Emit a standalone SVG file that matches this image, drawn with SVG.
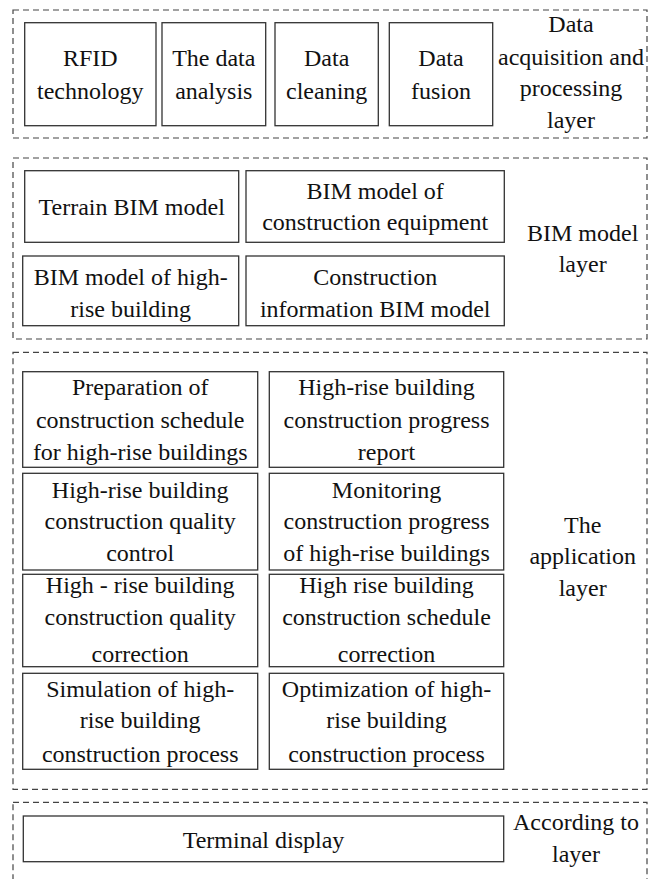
<svg xmlns="http://www.w3.org/2000/svg" width="656" height="879" viewBox="0 0 656 879">
<style>
.layer{fill:none;stroke:#444;stroke-width:1.2;stroke-dasharray:6 4}
.box{fill:#fff;stroke:#333;stroke-width:1.3}
</style>
<rect width="656" height="879" fill="#fff"/>
<g id="layer1">
<rect class="layer" x="13" y="10" width="634" height="128"/>
<text style="font-family:'Liberation Serif','Times New Roman',serif;font-size:24px;fill:#111;text-anchor:middle" x="571" y="32">Data</text>
<text style="font-family:'Liberation Serif','Times New Roman',serif;font-size:24px;fill:#111;text-anchor:middle" x="571" y="65">acquisition and</text>
<text style="font-family:'Liberation Serif','Times New Roman',serif;font-size:24px;fill:#111;text-anchor:middle" x="571" y="96">processing</text>
<text style="font-family:'Liberation Serif','Times New Roman',serif;font-size:24px;fill:#111;text-anchor:middle" x="571" y="128">layer</text>
</g>
<g id="rfid"><rect class="box" x="24.7" y="22.7" width="131.3" height="103"/><text style="font-family:'Liberation Serif','Times New Roman',serif;font-size:24px;fill:#111;text-anchor:middle" x="90.3" y="66">RFID</text><text style="font-family:'Liberation Serif','Times New Roman',serif;font-size:24px;fill:#111;text-anchor:middle" x="90.3" y="99">technology</text></g>
<g id="analysis"><rect class="box" x="162" y="22.7" width="103.7" height="103"/><text style="font-family:'Liberation Serif','Times New Roman',serif;font-size:24px;fill:#111;text-anchor:middle" x="213.8" y="66">The data</text><text style="font-family:'Liberation Serif','Times New Roman',serif;font-size:24px;fill:#111;text-anchor:middle" x="213.8" y="99">analysis</text></g>
<g id="cleaning"><rect class="box" x="275" y="22.7" width="103.3" height="103"/><text style="font-family:'Liberation Serif','Times New Roman',serif;font-size:24px;fill:#111;text-anchor:middle" x="326.7" y="66">Data</text><text style="font-family:'Liberation Serif','Times New Roman',serif;font-size:24px;fill:#111;text-anchor:middle" x="326.7" y="99">cleaning</text></g>
<g id="fusion"><rect class="box" x="389.3" y="22.7" width="103.4" height="103"/><text style="font-family:'Liberation Serif','Times New Roman',serif;font-size:24px;fill:#111;text-anchor:middle" x="441" y="66">Data</text><text style="font-family:'Liberation Serif','Times New Roman',serif;font-size:24px;fill:#111;text-anchor:middle" x="441" y="99">fusion</text></g>

<g id="layer2">
<rect class="layer" x="13" y="158" width="634" height="181"/>
<text style="font-family:'Liberation Serif','Times New Roman',serif;font-size:24px;fill:#111;text-anchor:middle" x="582.7" y="241">BIM model</text>
<text style="font-family:'Liberation Serif','Times New Roman',serif;font-size:24px;fill:#111;text-anchor:middle" x="582.7" y="272">layer</text>
</g>
<g id="terrain"><rect class="box" x="24.7" y="170.7" width="214" height="71.6"/><text style="font-family:'Liberation Serif','Times New Roman',serif;font-size:24px;fill:#111;text-anchor:middle" x="131.7" y="215">Terrain BIM model</text></g>
<g id="equipment"><rect class="box" x="246" y="170.7" width="258.3" height="71.6"/><text style="font-family:'Liberation Serif','Times New Roman',serif;font-size:24px;fill:#111;text-anchor:middle" x="375.2" y="199">BIM model of</text><text style="font-family:'Liberation Serif','Times New Roman',serif;font-size:24px;fill:#111;text-anchor:middle" x="375.2" y="230">construction equipment</text></g>
<g id="highrise"><rect class="box" x="22.7" y="256" width="216" height="69.7"/><text style="font-family:'Liberation Serif','Times New Roman',serif;font-size:24px;fill:#111;text-anchor:middle" x="130.7" y="285">BIM model of high-</text><text style="font-family:'Liberation Serif','Times New Roman',serif;font-size:24px;fill:#111;text-anchor:middle" x="130.7" y="317">rise building</text></g>
<g id="info"><rect class="box" x="246" y="256" width="258.3" height="69.7"/><text style="font-family:'Liberation Serif','Times New Roman',serif;font-size:24px;fill:#111;text-anchor:middle" x="375.2" y="285">Construction</text><text style="font-family:'Liberation Serif','Times New Roman',serif;font-size:24px;fill:#111;text-anchor:middle" x="375.2" y="317">information BIM model</text></g>

<g id="layer3">
<rect class="layer" x="13" y="352.3" width="634" height="437"/>
<text style="font-family:'Liberation Serif','Times New Roman',serif;font-size:24px;fill:#111;text-anchor:middle" x="582.7" y="533">The</text>
<text style="font-family:'Liberation Serif','Times New Roman',serif;font-size:24px;fill:#111;text-anchor:middle" x="582.7" y="564">application</text>
<text style="font-family:'Liberation Serif','Times New Roman',serif;font-size:24px;fill:#111;text-anchor:middle" x="582.7" y="596">layer</text>
</g>
<g id="a1"><rect class="box" x="22.7" y="371.7" width="235" height="95.6"/><text style="font-family:'Liberation Serif','Times New Roman',serif;font-size:24px;fill:#111;text-anchor:middle" x="140.2" y="395">Preparation of</text><text style="font-family:'Liberation Serif','Times New Roman',serif;font-size:24px;fill:#111;text-anchor:middle" x="140.2" y="428">construction schedule</text><text style="font-family:'Liberation Serif','Times New Roman',serif;font-size:24px;fill:#111;text-anchor:middle" x="140.2" y="460">for high-rise buildings</text></g>
<g id="a2"><rect class="box" x="269.3" y="371.7" width="234.4" height="95.6"/><text style="font-family:'Liberation Serif','Times New Roman',serif;font-size:24px;fill:#111;text-anchor:middle" x="386.5" y="395">High-rise building</text><text style="font-family:'Liberation Serif','Times New Roman',serif;font-size:24px;fill:#111;text-anchor:middle" x="386.5" y="428">construction progress</text><text style="font-family:'Liberation Serif','Times New Roman',serif;font-size:24px;fill:#111;text-anchor:middle" x="386.5" y="460">report</text></g>
<g id="a3"><rect class="box" x="22.7" y="473.3" width="235" height="96.7"/><text style="font-family:'Liberation Serif','Times New Roman',serif;font-size:24px;fill:#111;text-anchor:middle" x="140.2" y="498">High-rise building</text><text style="font-family:'Liberation Serif','Times New Roman',serif;font-size:24px;fill:#111;text-anchor:middle" x="140.2" y="529">construction quality</text><text style="font-family:'Liberation Serif','Times New Roman',serif;font-size:24px;fill:#111;text-anchor:middle" x="140.2" y="561">control</text></g>
<g id="a4"><rect class="box" x="269.3" y="473.3" width="234.4" height="96.7"/><text style="font-family:'Liberation Serif','Times New Roman',serif;font-size:24px;fill:#111;text-anchor:middle" x="386.5" y="498">Monitoring</text><text style="font-family:'Liberation Serif','Times New Roman',serif;font-size:24px;fill:#111;text-anchor:middle" x="386.5" y="529">construction progress</text><text style="font-family:'Liberation Serif','Times New Roman',serif;font-size:24px;fill:#111;text-anchor:middle" x="386.5" y="561">of high-rise buildings</text></g>
<g id="a5"><rect class="box" x="22.7" y="574.3" width="235" height="92.4"/><text style="font-family:'Liberation Serif','Times New Roman',serif;font-size:24px;fill:#111;text-anchor:middle" x="140.2" y="593">High - rise building</text><text style="font-family:'Liberation Serif','Times New Roman',serif;font-size:24px;fill:#111;text-anchor:middle" x="140.2" y="625">construction quality</text><text style="font-family:'Liberation Serif','Times New Roman',serif;font-size:24px;fill:#111;text-anchor:middle" x="140.2" y="662">correction</text></g>
<g id="a6"><rect class="box" x="269.3" y="574.3" width="234.4" height="92.4"/><text style="font-family:'Liberation Serif','Times New Roman',serif;font-size:24px;fill:#111;text-anchor:middle" x="386.5" y="593">High rise building</text><text style="font-family:'Liberation Serif','Times New Roman',serif;font-size:24px;fill:#111;text-anchor:middle" x="386.5" y="625">construction schedule</text><text style="font-family:'Liberation Serif','Times New Roman',serif;font-size:24px;fill:#111;text-anchor:middle" x="386.5" y="662">correction</text></g>
<g id="a7"><rect class="box" x="22.7" y="673.3" width="235" height="96"/><text style="font-family:'Liberation Serif','Times New Roman',serif;font-size:24px;fill:#111;text-anchor:middle" x="140.2" y="697">Simulation of high-</text><text style="font-family:'Liberation Serif','Times New Roman',serif;font-size:24px;fill:#111;text-anchor:middle" x="140.2" y="728">rise building</text><text style="font-family:'Liberation Serif','Times New Roman',serif;font-size:24px;fill:#111;text-anchor:middle" x="140.2" y="762">construction process</text></g>
<g id="a8"><rect class="box" x="269.3" y="673.3" width="234.4" height="96"/><text style="font-family:'Liberation Serif','Times New Roman',serif;font-size:24px;fill:#111;text-anchor:middle" x="386.5" y="697">Optimization of high-</text><text style="font-family:'Liberation Serif','Times New Roman',serif;font-size:24px;fill:#111;text-anchor:middle" x="386.5" y="728">rise building</text><text style="font-family:'Liberation Serif','Times New Roman',serif;font-size:24px;fill:#111;text-anchor:middle" x="386.5" y="762">construction process</text></g>

<g id="layer4">
<rect class="layer" x="13" y="802.3" width="634" height="90"/>
<text style="font-family:'Liberation Serif','Times New Roman',serif;font-size:24px;fill:#111;text-anchor:middle" x="576" y="830">According to</text>
<text style="font-family:'Liberation Serif','Times New Roman',serif;font-size:24px;fill:#111;text-anchor:middle" x="576" y="862">layer</text>
</g>
<g id="terminal"><rect class="box" x="23.3" y="816" width="480.4" height="45.7"/><text style="font-family:'Liberation Serif','Times New Roman',serif;font-size:24px;fill:#111;text-anchor:middle" x="263.5" y="848">Terminal display</text></g>
<g id="connectors"></g>
</svg>
